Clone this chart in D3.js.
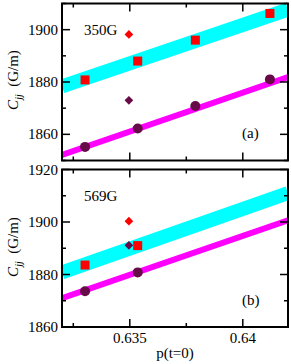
<!DOCTYPE html>
<meta charset="utf-8">
<style>
  body { margin: 0; background: #fff; }
  text { font-family: 'Liberation Serif', 'Times New Roman', serif; fill: #000; }
</style>
<script src="https://d3js.org/d3.v7.min.js"></script>
<div id="my_dataviz"></div>
<script>

// values
var xTicks = [0.635, 0.64];
var xMinor = [0.6325, 0.6375];
var xTickLabels = ["0.635", "0.64"];

// panel (a) 350G
var aLabel = "350G", aTag = "(a)";
var aYDomain = [1850, 1910];
var aYTicks = [1860, 1880, 1900];
var aSquares = [[0.63302, 1880.8], [0.63535, 1888.0], [0.6379, 1896.0], [0.6412, 1906.2]];
var aCircles = [[0.63302, 1855.2], [0.63535, 1862.2], [0.6379, 1870.8], [0.6412, 1881.0]];
var aRedDiamond = [[0.63496, 1898.2]];
var aDarkDiamond = [[0.63496, 1873.0]];
var aCyanLine = [[0.632, 1878.3], [0.642, 1907.7]];
var aMagentaLine = [[0.632, 1852.1], [0.642, 1881.9]];

// panel (b) 569G
var bLabel = "569G", bTag = "(b)";
var bYDomain = [1860, 1920];
var bYTicks = [1860, 1880, 1900, 1920];
var bSquares = [[0.63302, 1883.6], [0.63535, 1891.0]];
var bCircles = [[0.63302, 1873.6], [0.63535, 1880.8]];
var bRedDiamond = [[0.63496, 1900.3]];
var bDarkDiamond = [[0.63496, 1891.1]];
var bCyanLine = [[0.632, 1880.8], [0.642, 1911.0]];
var bMagentaLine = [[0.632, 1871.0], [0.642, 1900.6]];

var width = 291, height = 364;
var svg = d3.select("#my_dataviz")
  .append("svg")
    .attr("width", width)
    .attr("height", height);

var x = d3.scaleLinear().domain([0.632, 0.642]).range([62, 288]);
var dark = "#660a48";

function drawPanel(id, top, bottom, yDomain, yTicks, lines, squares, circles, redD, darkD, label, tag, tagY, labelY, showX) {
  var y = d3.scaleLinear().domain(yDomain).range([bottom, top]);
  var g = svg.append("g");

  g.append("clipPath").attr("id", id)
    .append("rect")
      .attr("x", 62).attr("y", top)
      .attr("width", 226).attr("height", bottom - top);

  var line = d3.line().x(function(d) { return x(d[0]) }).y(function(d) { return y(d[1]) });
  var plot = g.append("g").attr("clip-path", "url(#" + id + ")");
  plot.append("path").datum(lines[0])
    .attr("d", line).attr("fill", "none")
    .attr("stroke", "#00ffff").attr("stroke-width", 14);
  plot.append("path").datum(lines[1])
    .attr("d", line).attr("fill", "none")
    .attr("stroke", "#ff00ff").attr("stroke-width", 6);

  // markers
  g.selectAll(".sq").data(squares).enter().append("rect")
    .attr("x", function(d) { return x(d[0]) - 4.5 })
    .attr("y", function(d) { return y(d[1]) - 4.5 })
    .attr("width", 9).attr("height", 9)
    .style("fill", "#ff0000");
  g.selectAll(".ci").data(circles).enter().append("circle")
    .attr("cx", function(d) { return x(d[0]) })
    .attr("cy", function(d) { return y(d[1]) })
    .attr("r", 5)
    .style("fill", dark);
  var diamond = d3.symbol().type(d3.symbolDiamond2).size(48);
  g.selectAll(".rd").data(redD).enter().append("path")
    .attr("d", diamond)
    .attr("transform", function(d) { return "translate(" + x(d[0]) + "," + y(d[1]) + ")" })
    .style("fill", "#ff0000");
  g.selectAll(".dd").data(darkD).enter().append("path")
    .attr("d", diamond)
    .attr("transform", function(d) { return "translate(" + x(d[0]) + "," + y(d[1]) + ")" })
    .style("fill", dark);

  // ticks on all four sides, pointing in
  var yMinor = d3.range(yDomain[0], yDomain[1] + 1, 10);
  yMinor.forEach(function(v) {
    var len = yTicks.indexOf(v) >= 0 ? 8 : 4;
    g.append("line").attr("x1", 62).attr("x2", 62 + len)
      .attr("y1", y(v)).attr("y2", y(v)).attr("stroke", "#000").attr("stroke-width", 1.5);
    g.append("line").attr("x1", 288).attr("x2", 288 - len)
      .attr("y1", y(v)).attr("y2", y(v)).attr("stroke", "#000").attr("stroke-width", 1.5);
  });
  xTicks.concat(xMinor).forEach(function(v, i) {
    var len = i < xTicks.length ? 8 : 4;
    g.append("line").attr("x1", x(v)).attr("x2", x(v))
      .attr("y1", bottom).attr("y2", bottom - len).attr("stroke", "#000").attr("stroke-width", 1.5);
    g.append("line").attr("x1", x(v)).attr("x2", x(v))
      .attr("y1", top).attr("y2", top + len).attr("stroke", "#000").attr("stroke-width", 1.5);
  });

  g.append("rect")
    .attr("x", 62).attr("y", top)
    .attr("width", 226).attr("height", bottom - top)
    .attr("fill", "none").attr("stroke", "#000").attr("stroke-width", 2);

  // y tick labels
  g.selectAll(".yl").data(yTicks).enter().append("text")
    .attr("x", 58).attr("y", function(d) { return y(d) + 5 })
    .attr("text-anchor", "end")
    .style("font-size", "15px")
    .text(function(d) { return d });

  if (showX) {
    g.selectAll(".xl").data(xTicks).enter().append("text")
      .attr("x", function(d) { return x(d) })
      .attr("y", bottom + 16)
      .attr("text-anchor", "middle")
      .style("font-size", "15px")
      .text(function(d, i) { return xTickLabels[i] });
  }

  g.append("text").attr("x", 84).attr("y", top + 31)
    .style("font-size", "15px").text(label);
  g.append("text").attr("x", 242).attr("y", tagY)
    .style("font-size", "15px").text(tag);

  // y axis title
  var t = g.append("text")
    .attr("transform", "translate(18," + labelY + ") rotate(-90)")
    .attr("text-anchor", "middle")
    .style("font-size", "15px");
  t.append("tspan").style("font-style", "italic").text("C");
  t.append("tspan").style("font-size", "10px").style("font-style", "italic").attr("dy", 4).text("jj");
  t.append("tspan").attr("dy", -4).text("\u2002(G/m)");
}

drawPanel("clipA", 3.5, 160.5, aYDomain, aYTicks, [aCyanLine, aMagentaLine],
  aSquares, aCircles, aRedDiamond, aDarkDiamond, aLabel, aTag, 138, 80, false);
drawPanel("clipB", 169.5, 327, bYDomain, bYTicks, [bCyanLine, bMagentaLine],
  bSquares, bCircles, bRedDiamond, bDarkDiamond, bLabel, bTag, 305, 247, true);

// x axis title
svg.append("text")
  .attr("x", 175).attr("y", 358)
  .attr("text-anchor", "middle")
  .style("font-size", "15px")
  .text("p(t=0)");

</script>
